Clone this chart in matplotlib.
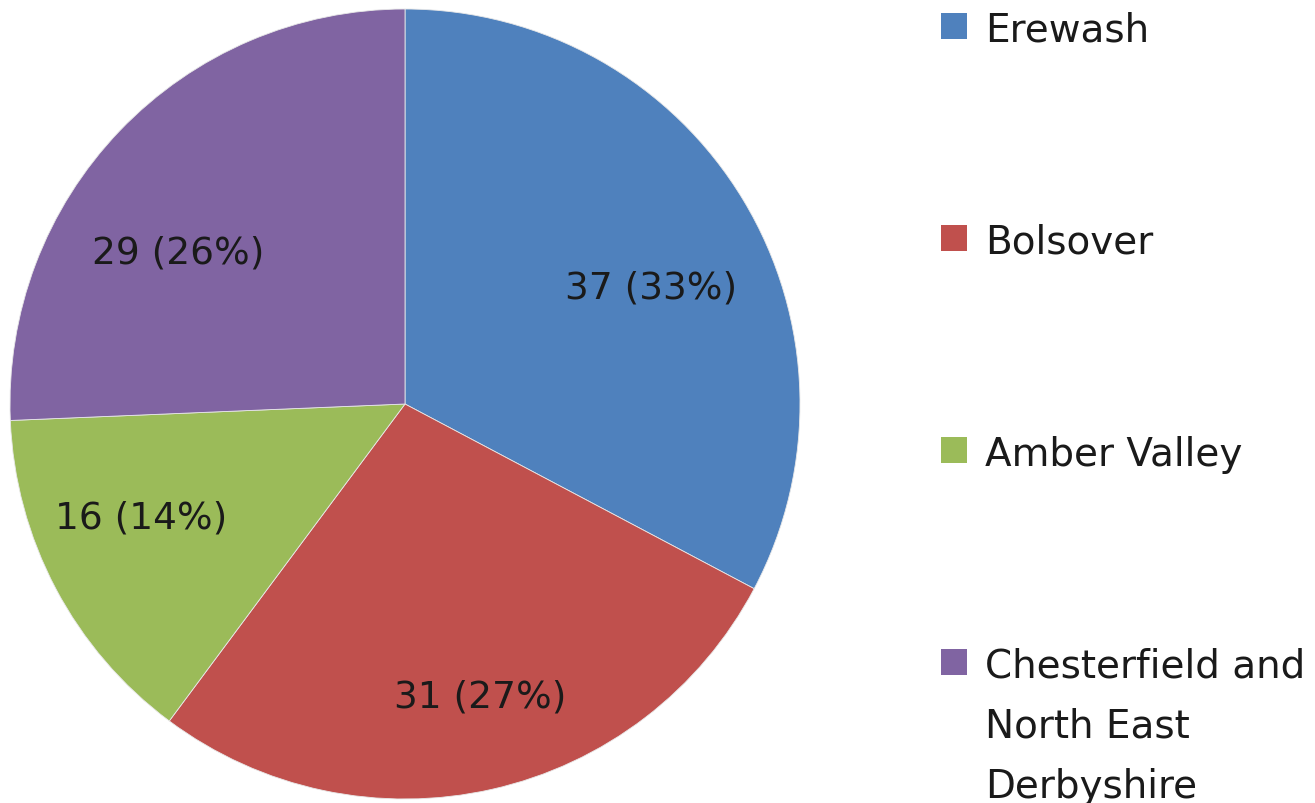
import matplotlib.pyplot as plt
from matplotlib.patches import Rectangle

# --- data ---
districts = ["Erewash", "Bolsover", "Amber Valley",
             "Chesterfield and\nNorth East\nDerbyshire"]
counts = [37, 31, 16, 29]
colours = ["#4F81BD", "#C0504D", "#9BBB59", "#8064A2"]

W, H = 1315, 804
fig = plt.figure(figsize=(W / 100, H / 100), dpi=100)
fig.patch.set_facecolor("white")

# pie: centre (405, 405), radius 395 px
cx, cy, r = 405, 405, 395
ax = fig.add_axes([(cx - r) / W, (H - cy - r) / H, 2 * r / W, 2 * r / H])
total = sum(counts)


def fmt(p):
    n = int(round(p * total / 100))
    return f"{n} ({p:.0f}%)"


wedges, _, autotexts = ax.pie(
    counts, colors=colours, startangle=90, counterclock=False,
    autopct=fmt, pctdistance=0.72, radius=1,
    wedgeprops=dict(linewidth=0.6, edgecolor="#e8e8e8"),
    textprops=dict(fontsize=27, color="#1a1a1a", family="DejaVu Sans"))

# nudge labels (in px, right / down) to where Excel put them
nudges = [(2, 30), (12, 15), (-12, -19), (-22, 45)]
for t, (dx, dy) in zip(autotexts, nudges):
    x, y = t.get_position()
    t.set_position((x + dx / r, y - dy / r))

ax.set_xlim(-1, 1)
ax.set_ylim(-1, 1)
ax.axis("off")

# --- legend, drawn by hand so multi-line labels align on the first line ---
sq = 26
x_sq, x_txt = 941, 985
base0, step, line_pitch = 42, 212, 60
for i, (lab, col) in enumerate(zip(districts, colours)):
    base = base0 + i * step
    fig.patches.append(Rectangle((x_sq / W, 1 - (base - 2) / H), sq / W, sq / H,
                                 transform=fig.transFigure, facecolor=col,
                                 edgecolor="none"))
    for j, line in enumerate(lab.split("\n")):
        fig.text(x_txt / W, 1 - (base + j * line_pitch) / H, line,
                 fontsize=28, color="#1a1a1a", va="baseline", ha="left",
                 family="DejaVu Sans")

fig.savefig("out.png", dpi=100)
